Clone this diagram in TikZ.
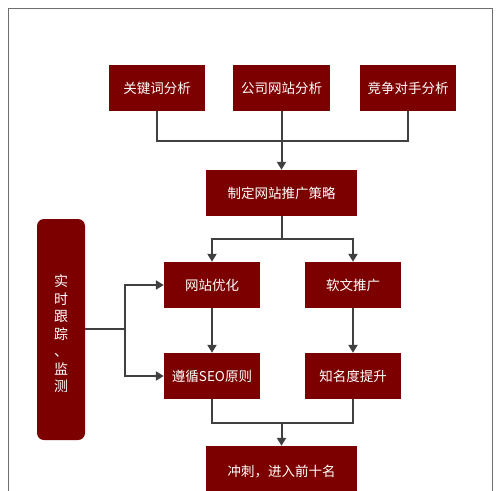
\documentclass[tikz,border=0pt]{standalone}
\usepackage{fontspec}
\newfontfamily\cjk{Noto Sans CJK SC}
\usetikzlibrary{arrows.meta}
\definecolor{boxred}{HTML}{7D0000}
\definecolor{lineg}{HTML}{404040}
\definecolor{frameg}{HTML}{6E6E6E}
\begin{document}
\begin{tikzpicture}[x=1pt,y=-1pt,
  box/.style={fill=boxred,draw=none,text=white,font=\cjk\fontsize{13.5}{16}\selectfont,inner sep=0pt,minimum height=46pt},
  conn/.style={draw=lineg,line width=2pt},
  arr/.style={conn,-{Triangle[width=9pt,length=8pt]}}]
\useasboundingbox (0,0) rectangle (500,490);
\clip (0,0) rectangle (500,490);
\draw[frameg,line width=1pt] (8,8) rectangle (492,520);
\node[box,minimum width=96pt] (k1) at (157,88) {关键词分析};
\node[box,minimum width=97pt] (k2) at (281.5,88) {公司网站分析};
\node[box,minimum width=96pt] (k3) at (408,88) {竞争对手分析};
\node[box,minimum width=151pt] (s) at (281.5,193) {制定网站推广策略};
\node[box,minimum width=96pt] (w1) at (212,285) {网站优化};
\node[box,minimum width=96pt] (w2) at (353,285) {软文推广};
\node[box,minimum width=96pt] (w3) at (212,376) {遵循SEO原则};
\node[box,minimum width=96pt] (w4) at (353,376) {知名度提升};
\node[box,minimum width=151pt,minimum height=52pt] (f) at (281.5,472) {冲刺，进入前十名};
\node[fill=boxred,rounded corners=7pt,minimum width=48pt,minimum height=221pt,inner sep=0pt] (l) at (61,329.5) {};
\node[text=white,font=\cjk\fontsize{14}{17.5}\selectfont,align=center,inner sep=0pt] (lt) at (61,334) {实\\时\\跟\\踪\\、\\监\\测};
\coordinate (j1) at (281.5,141);
\coordinate (j2) at (281.5,239);
\coordinate (j3) at (281.5,423);
\coordinate (j4) at (125,329);
\draw[conn] (k1.south) |- (j1) -| (k3.south);
\draw[arr] (k2.south) -- (s.north);
\draw[arr] (s.south) -- (j2) -| (w1.north);
\draw[arr] (j2) -| (w2.north);
\draw[arr] (w1.south) -- (w3.north);
\draw[arr] (w2.south) -- (w4.north);
\draw[conn] (w3.south) |- (j3) -| (w4.south);
\draw[arr] (j3) -- (f.north);
\draw[conn] (l.east |- j4) -- (j4);
\draw[arr] (j4) |- (w1.west);
\draw[arr] (j4) |- (w3.west);
\end{tikzpicture}
\end{document}
